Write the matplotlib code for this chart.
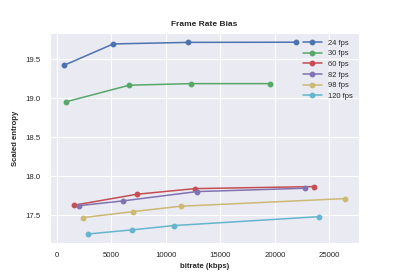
import matplotlib
matplotlib.use("Agg")
import matplotlib.pyplot as plt
import seaborn as sns

sns.set_style("darkgrid")
plt.rcParams['font.family'] = ['Liberation Sans', 'DejaVu Sans']

labels = ["24 fps", "30 fps", "60 fps", "82 fps", "98 fps", "120 fps"]
bitrates = [
    [615, 5165, 12046, 21954],
    [798, 6633, 12294, 19514],
    [1560, 7339, 12661, 23550],
    [2046, 6024, 12844, 22780],
    [2355, 6972, 11346, 26422],
    [2875, 6881, 10703, 24098],
]
entropy = [
    [19.42, 19.696, 19.716, 19.718],
    [18.953, 19.167, 19.187, 19.187],
    [17.628, 17.769, 17.841, 17.867],
    [17.623, 17.683, 17.803, 17.846],
    [17.469, 17.546, 17.615, 17.713],
    [17.26, 17.312, 17.367, 17.482],
]
# old seaborn "deep" palette
colors = ["#4C72B0", "#55A868", "#C44E52", "#8172B2", "#CCB974", "#64B5CD"]

fig = plt.figure(figsize=(3.99, 2.74), dpi=100)
ax = fig.add_axes([50 / 399, 1 - 243.3 / 274, 309 / 399, 210.6 / 274])

for i in range(len(labels)):
    ax.plot(bitrates[i], entropy[i], marker="o", markersize=3.2, linewidth=1.1,
            color=colors[i], label=labels[i])

ax.set_xlim(-640, 27725)
ax.set_ylim(17.14, 19.84)
ax.set_xticks([0, 5000, 10000, 15000, 20000, 25000])
ax.set_yticks([17.5, 18.0, 18.5, 19.0, 19.5])
ax.tick_params(labelsize=5.6, pad=3)
ax.set_title("Frame Rate Bias", fontsize=6, fontweight="bold", pad=5)
ax.set_xlabel("bitrate (kbps)", fontsize=5.6, fontweight="bold", labelpad=3)
ax.set_ylabel("Scaled entropy", fontsize=5.6, fontweight="bold", labelpad=5)
ax.legend(fontsize=5.4, loc="upper right", frameon=False, handlelength=2.5,
          labelspacing=0.45)

fig.savefig("out.png", dpi=100)
